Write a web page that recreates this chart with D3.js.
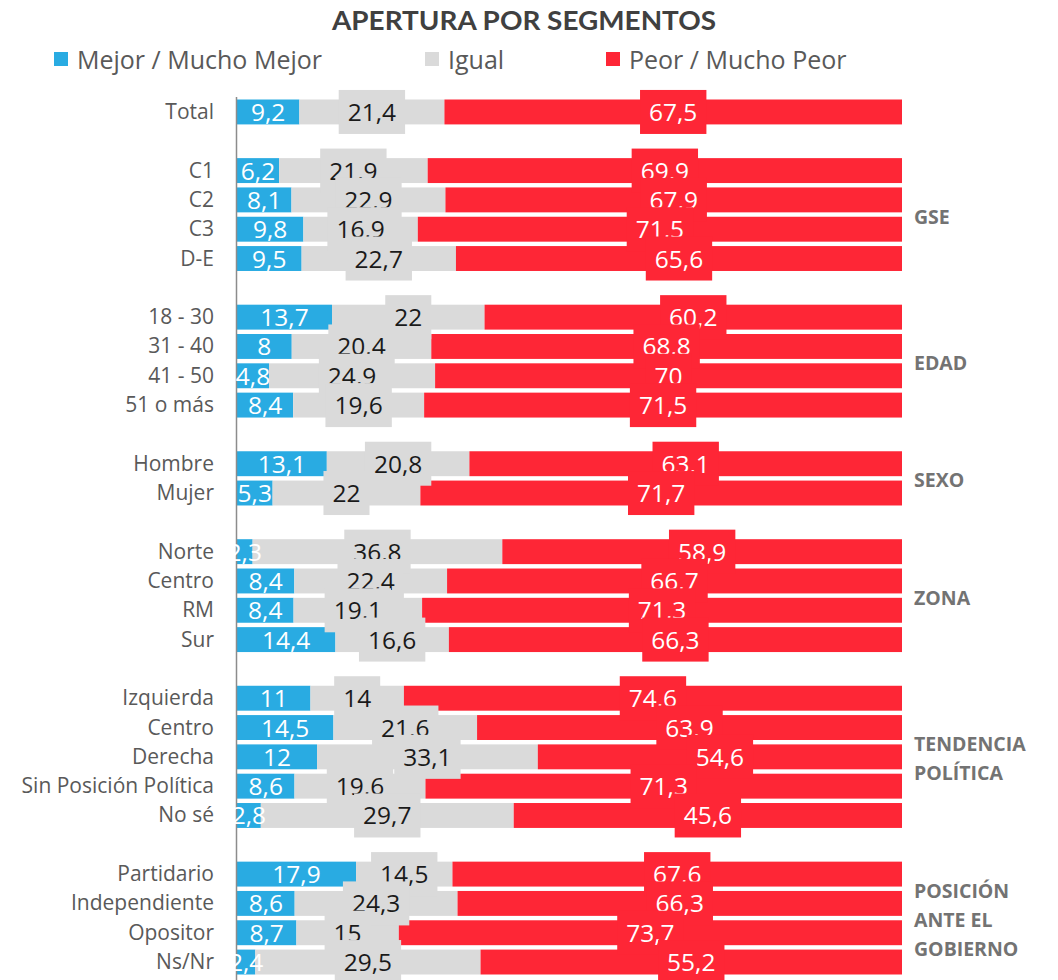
<!DOCTYPE html>
<html><head><meta charset="utf-8">
<script src="https://cdn.jsdelivr.net/npm/d3@7"></script>
<style>body{margin:0;background:#fff} svg{display:block}</style>
</head><body><svg id="c" width="1058" height="980"></svg>
<script>
const title = "APERTURA POR SEGMENTOS";
const seriesNames = ["Mejor / Mucho Mejor", "Igual", "Peor / Mucho Peor"];
const seriesColors = ["#29ABE2", "#DADADA", "#FE2636"];
const labelColors = ["#ffffff", "#1a1a1a", "#ffffff"];
const categories = ["Total","C1","C2","C3","D-E","18 - 30","31 - 40","41 - 50","51 o más","Hombre","Mujer","Norte","Centro","RM","Sur","Izquierda","Centro","Derecha","Sin Posición Política","No sé","Partidario","Independiente","Opositor","Ns/Nr"];
const segments = ["Total","GSE","GSE","GSE","GSE","EDAD","EDAD","EDAD","EDAD","SEXO","SEXO","ZONA","ZONA","ZONA","ZONA","TP","TP","TP","TP","TP","PG","PG","PG","PG"];
const segmentLabels = {GSE:["GSE"], EDAD:["EDAD"], SEXO:["SEXO"], ZONA:["ZONA"], TP:["TENDENCIA","POLÍTICA"], PG:["POSICIÓN","ANTE EL","GOBIERNO"]};
const mejor = [9.2,6.2,8.1,9.8,9.5,13.7,8,4.8,8.4,13.1,5.3,2.3,8.4,8.4,14.4,11,14.5,12,8.6,2.8,17.9,8.6,8.7,2.4];
const igual = [21.4,21.9,22.9,16.9,22.7,22,20.4,24.9,19.6,20.8,22,36.8,22.4,19.1,16.6,14,21.6,33.1,19.6,29.7,14.5,24.3,15,29.5];
const peor  = [67.5,69.9,67.9,71.5,65.6,60.2,68.8,70,71.5,63.1,71.7,58.9,66.7,71.3,66.3,74.6,63.9,54.6,71.3,45.6,67.6,66.3,73.7,55.2];

const svg = d3.select("#c");
const FONT = "'Open Sans', Lato, sans-serif";
const TFONT = "Lato, 'Open Sans', sans-serif";

// slots: insert a blank slot between segments
const rows = [];
let slot = 0;
categories.forEach((c, i) => {
  if (i > 0 && segments[i] !== segments[i-1]) slot++;
  rows.push({i, cat: c, seg: segments[i], slot, vals: [mejor[i], igual[i], peor[i]]});
  slot++;
});
const nSlots = slot;

const y = d3.scaleBand().domain(d3.range(nSlots)).range([97.3, 976.7]).paddingInner(0.15).paddingOuter(0.075);
const x = d3.scaleLinear().domain([0, 1]).range([237, 902]);

const keys = [0,1,2];
const stacked = d3.stack().keys(keys).value((d, k) => d.vals[k]).offset(d3.stackOffsetExpand)(rows);

// title
svg.append("text").attr("x", 524).attr("y", 30).attr("text-anchor", "middle")
  .attr("font-family", TFONT).attr("font-weight", 700).attr("font-size", 27)
  .attr("fill", "#404040").attr("textLength", 384).attr("lengthAdjust", "spacingAndGlyphs").text(title);

// legend
const legX = [54, 425, 606];
seriesNames.forEach((n, k) => {
  svg.append("rect").attr("x", legX[k]).attr("y", 52).attr("width", 14).attr("height", 14).attr("fill", seriesColors[k]);
  svg.append("text").attr("x", legX[k] + 23).attr("y", 69).attr("font-family", FONT).attr("font-size", 25)
    .attr("fill", "#595959").text(n);
});

// bars
stacked.forEach((s, k) => {
  svg.append("g").selectAll("rect").data(s).join("rect")
    .attr("x", d => x(d[0])).attr("width", d => x(d[1]) - x(d[0]))
    .attr("y", d => y(d.data.slot)).attr("height", y.bandwidth())
    .attr("fill", seriesColors[k]);
});

// axis line
svg.append("line").attr("x1", 236.5).attr("x2", 236.5).attr("y1", 97).attr("y2", 980)
  .attr("stroke", "#8c8c8c").attr("stroke-width", 1.5);

// category labels
svg.append("g").selectAll("text").data(rows).join("text")
  .attr("x", 214).attr("y", d => y(d.slot) + y.bandwidth()/2 + 7)
  .attr("text-anchor", "end").attr("font-family", FONT).attr("font-size", 21)
  .attr("fill", "#595959").text(d => d.cat);

// data labels
const fmt = v => String(v).replace(".", ",");
stacked.forEach((s, k) => {
  const g = svg.append("g");
  s.forEach(d => {
    const cx = (x(d[0]) + x(d[1])) / 2;
    const cy = y(d.data.slot) + y.bandwidth()/2;
    const lg = g.append("g");
    const r = lg.append("rect");
    const t = lg.append("text").attr("x", cx).attr("y", cy + 9).attr("text-anchor", "middle")
      .attr("font-family", FONT).attr("font-size", 24.5).attr("fill", labelColors[k])
      .text(fmt(d.data.vals[k]));
    if (k > 0) {
      const w = t.node().getComputedTextLength() + 18;
      r.attr("x", cx - w/2).attr("width", w).attr("y", cy - 22).attr("height", 44).attr("fill", seriesColors[k]);
    } else r.remove();
  });
});

// segment labels
const segs = d3.groups(rows.filter(r => segmentLabels[r.seg]), r => r.seg);
segs.forEach(([seg, rs]) => {
  const cy = d3.mean(rs, r => y(r.slot) + y.bandwidth()/2) + 2;
  const lines = segmentLabels[seg];
  lines.forEach((ln, j) => {
    svg.append("text").attr("x", 914).attr("y", cy + (j - (lines.length-1)/2) * 29 + 7)
      .attr("font-family", FONT).attr("font-weight", 700).attr("font-size", 19.5)
      .attr("fill", "#737373").text(ln);
  });
});
</script></body></html>
